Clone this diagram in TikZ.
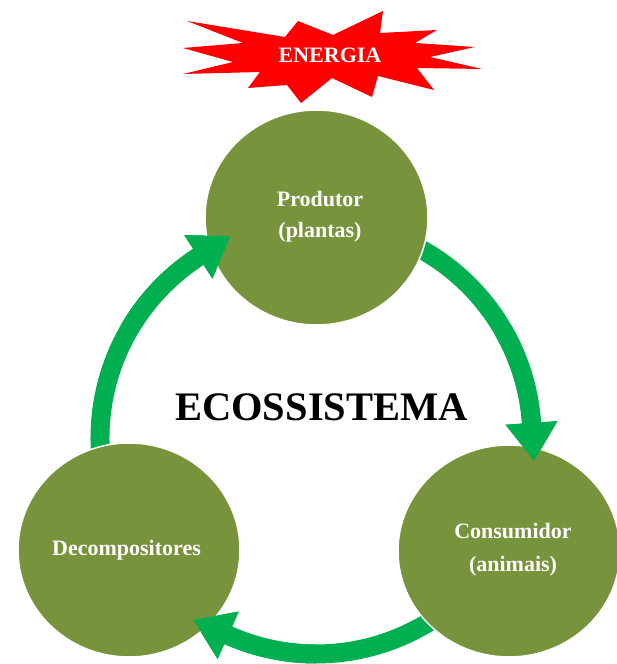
\documentclass[tikz,border=0pt]{standalone}
\usepackage{fontspec}
\setmainfont{Liberation Serif}
\usetikzlibrary{shapes.geometric}

\definecolor{olivecirc}{HTML}{77933C}
\definecolor{cyclegreen}{HTML}{00B050}
\definecolor{burstred}{HTML}{FF0000}

% curved arrow around the centre C: #1 start angle, #2 angle of the head base
\newcommand\ecoarrow[2]{%
  \fill[cyclegreen]
    ([shift={(C)}]#1:225.5pt) arc[start angle=#1, end angle=#2, radius=225.5pt]
    -- ([shift={(C)}]#2:242pt)
    -- ([shift={(C)}]{#2-10}:219.3pt)
    -- ([shift={(C)}]#2:190pt)
    -- ([shift={(C)}]#2:206.5pt)
    arc[start angle=#2, end angle=#1, radius=206.5pt] -- cycle;}

\tikzset{
  stage/.style={ellipse, fill=olivecirc, draw=white, line width=1.5pt, inner sep=0pt},
  stagetext/.style={text=white, font=\fontsize{22pt}{26pt}\selectfont\bfseries, anchor=base, inner sep=0pt},
  titletext/.style={text=black, font=\fontsize{40.5pt}{46pt}\selectfont\bfseries, anchor=base, inner sep=0pt},
}

\begin{document}
\begin{tikzpicture}[x=1pt, y=1pt]
  \useasboundingbox (0,0) rectangle (617,664);
  \fill[white] (0,0) rectangle (617,664);

  \coordinate (C) at (316,226);

  % energy burst
  \fill[burstred] (187,643) -- (285,627) -- (298,643) -- (333,629) -- (383,653)
    -- (380,631) -- (437,634) -- (415,621) -- (475,617) -- (430,607)
    -- (482,595) -- (417,596) -- (434,574) -- (378,588) -- (372,567)
    -- (332,586) -- (301,561) -- (287,579) -- (248,576) -- (260,592)
    -- (183,590) -- (233,602) -- (183,616) -- (243,621) -- cycle;
  \node[stagetext] (energia) at (330,601) {ENERGIA};

  % arrow bodies, starting under their source circles
  \ecoarrow{70}{4}
  \ecoarrow{-45}{-114}
  \ecoarrow{195}{123}

  % the three stages
  \node[stage, minimum width=223pt, minimum height=215pt] (prod) at (316.5,446.5) {};
  \node[stage, minimum width=222pt, minimum height=212pt] (cons) at (509,113) {};
  \node[stage, minimum width=222pt, minimum height=214pt] (decomp) at (129,114) {};

  % arrow heads lying over their target circles
  \ecoarrow{30}{4}
  \ecoarrow{-90}{-114}
  \ecoarrow{150}{123}

  \node[stagetext] (prod1) at (320,457.3) {Produtor};
  \node[stagetext] (prod2) at (320,426) {(plantas)};
  \node[stagetext] (cons1) at (513,125) {Consumidor};
  \node[stagetext] (cons2) at (513,92) {(animais)};
  \node[stagetext] (decomp1) at (126.5,108) {Decompositores};

  \node[titletext] (title) at (321.5,243.3) {ECOSSISTEMA};
\end{tikzpicture}
\end{document}
